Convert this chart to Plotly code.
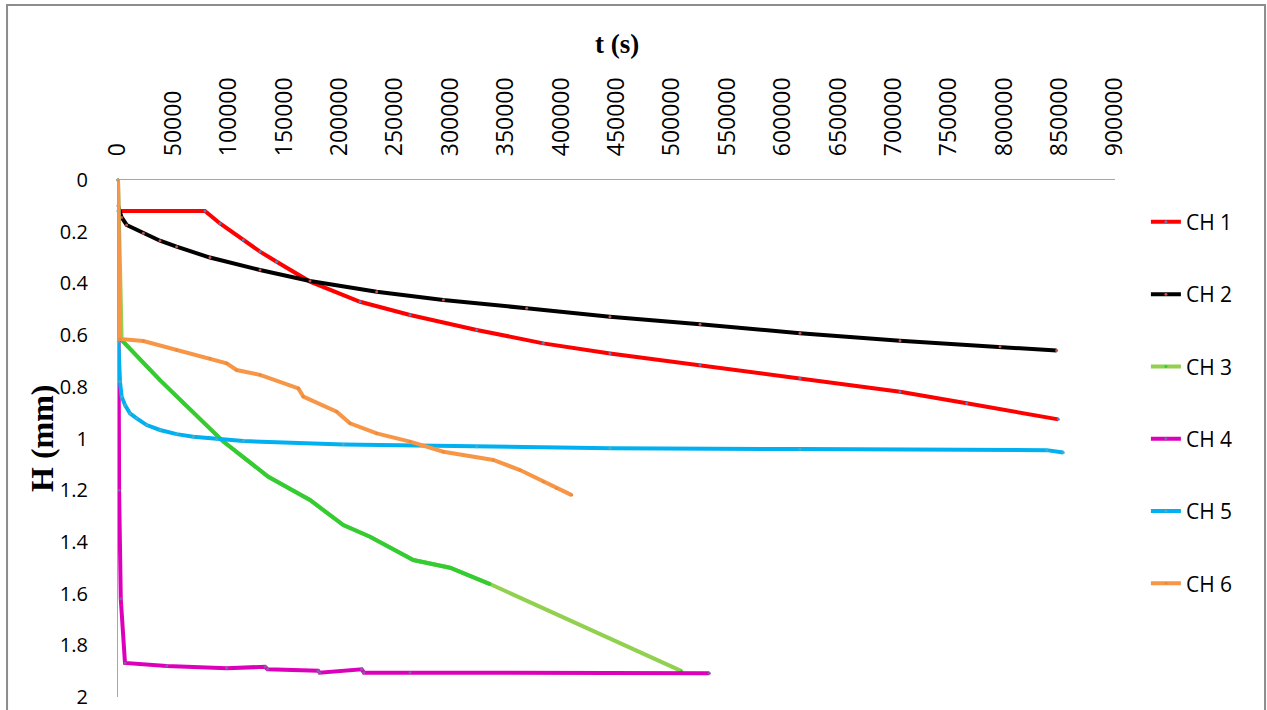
import plotly.graph_objects as go

# ---------------- data ----------------
ch1_t = [0, 78500, 92100, 113100, 128200, 143200, 173300, 218500, 263600, 323800,
         383900, 444100, 525400, 615600, 705900, 766100, 848800]
ch1_h = [0.12, 0.12, 0.168, 0.232, 0.277, 0.316, 0.393, 0.471, 0.522, 0.580,
         0.632, 0.671, 0.716, 0.767, 0.819, 0.864, 0.926]

ch2_t = [0, 3300, 7800, 22900, 37900, 52900, 83000, 128200, 173300, 233500, 293700,
         368900, 444100, 525400, 615600, 705900, 796200, 847300]
ch2_h = [0.10, 0.145, 0.174, 0.206, 0.235, 0.258, 0.300, 0.348, 0.391, 0.432, 0.464,
         0.496, 0.529, 0.558, 0.593, 0.622, 0.645, 0.660]

ch3_t = [0, 3300, 37900, 95100, 135700, 173300, 203400, 227500, 266600, 299700,
         335800, 508800]
ch3_h = [0.0, 0.619, 0.774, 1.012, 1.148, 1.238, 1.335, 1.380, 1.470, 1.500,
         1.563, 1.900]

ch4_t = [0, 1000, 2500, 6300, 43900, 98100, 132700, 135000, 180600, 182000,
         220000, 222000, 263600, 533800]
ch4_h = [0.0, 1.20, 1.62, 1.868, 1.880, 1.889, 1.883, 1.893, 1.898, 1.906,
         1.893, 1.906, 1.906, 1.908]

ch5_t = [0, 300, 1800, 3300, 6300, 10800, 16900, 25900, 37900, 52900, 68000, 89100,
         113100, 203400, 323800, 444100, 615600, 838300, 853300]
ch5_h = [0.0, 0.625, 0.780, 0.838, 0.870, 0.903, 0.922, 0.948, 0.967, 0.983, 0.993,
         1.002, 1.010, 1.023, 1.032, 1.038, 1.041, 1.045, 1.054]

ch6_t = [0, 1800, 22900, 52900, 83000, 98100, 107100, 128200, 162800, 167300,
         197400, 209400, 233500, 263600, 293700, 338800, 362900, 383900, 396000,
         409600]
ch6_h = [0.0, 0.615, 0.623, 0.658, 0.690, 0.709, 0.735, 0.754, 0.806, 0.838,
         0.896, 0.941, 0.980, 1.012, 1.051, 1.083, 1.122, 1.167, 1.193, 1.219]

series_names = ["CH 1", "CH 2", "CH 3", "CH 4", "CH 5", "CH 6"]
line_colors = ["#FF0000", "#000000", "#92D050", "#DD00BB", "#00B0F0", "#F79646"]
marker_colors = ["#4F81BD", "#C0504D", "#33CC33", "#8064A2", "#4BACC6", "#E98A3E"]

x_ticks = list(range(0, 900001, 50000))
y_ticks = [0, 0.2, 0.4, 0.6, 0.8, 1, 1.2, 1.4, 1.6, 1.8, 2]

# ---------------- figure ----------------
x_tick_font = dict(family="Open Sans, sans-serif", size=23, color="#000000")
y_tick_font = dict(family="Open Sans, sans-serif", size=20, color="#000000")
serif = "Liberation Serif, Times New Roman, serif"

all_t = [ch1_t, ch2_t, ch3_t, ch4_t, ch5_t, ch6_t]
all_h = [ch1_h, ch2_h, ch3_h, ch4_h, ch5_h, ch6_h]

fig = go.Figure()
for i, name in enumerate(series_names):
    fig.add_trace(go.Scatter(
        x=all_t[i], y=all_h[i], name=name, mode="lines+markers",
        line=dict(color=line_colors[i], width=4),
        marker=dict(color=marker_colors[i], size=3, symbol="circle"),
        legendgroup=name, cliponaxis=False,
    ))
    if name == "CH 3":
        # measured (densely marked) part of CH 3 appears in the marker colour
        fig.add_trace(go.Scatter(
            x=ch3_t[1:-1], y=ch3_h[1:-1], mode="lines", showlegend=False,
            line=dict(color=marker_colors[i], width=4),
            legendgroup=name, cliponaxis=False, hoverinfo="skip",
        ))

fig.update_layout(
    width=1267, height=710,
    margin=dict(l=118, r=152, t=180, b=13),
    paper_bgcolor="#FFFFFF", plot_bgcolor="#FFFFFF",
    showlegend=True,
    legend=dict(
        x=1.031, xanchor="left", y=0.958, yanchor="top",
        font=dict(family="Open Sans, sans-serif", size=21, color="#000000"),
        traceorder="grouped", tracegroupgap=42,
        bgcolor="rgba(0,0,0,0)",
    ),
    xaxis=dict(
        side="top", range=[0, 900000], tickvals=x_ticks,
        ticktext=[str(v) for v in x_ticks], tickangle=-90,
        showgrid=False, zeroline=False, showline=True, automargin=False,
        linecolor="#A6A6A6", linewidth=1.3, ticks="",
        tickfont=x_tick_font, ticklabelstandoff=18,
    ),
    yaxis=dict(
        range=[2, 0], tickvals=y_ticks, ticktext=[str(v) for v in y_ticks],
        showgrid=False, zeroline=False, showline=True, automargin=False,
        linecolor="#A6A6A6", linewidth=1.3, ticks="",
        tickfont=y_tick_font, ticklabelstandoff=25,
    ),
    annotations=[
        dict(text="<b>t (s)</b>", xref="paper", yref="paper", x=0.5005, y=1.2623,
             xanchor="center", yanchor="middle", showarrow=False,
             font=dict(family=serif, size=27, color="#000000")),
        dict(text="<b>H (mm)</b>", xref="paper", yref="paper", x=-0.0762, y=0.501,
             xanchor="center", yanchor="middle", textangle=-90, showarrow=False,
             font=dict(family=serif, size=32, color="#000000")),
    ],
    shapes=[
        dict(type="rect", xref="paper", yref="paper",
             x0=-0.1113, x1=1.1505, y0=-0.05, y1=1.3385,
             line=dict(color="#8C8C8C", width=2), fillcolor="rgba(0,0,0,0)",
             layer="above"),
    ],
)

# remove the default page margin so the figure sits at the window origin
fig.write_html("out.html",
               config={"displayModeBar": False},
               post_script="document.body.style.margin='0px';document.body.style.overflow='hidden';")
